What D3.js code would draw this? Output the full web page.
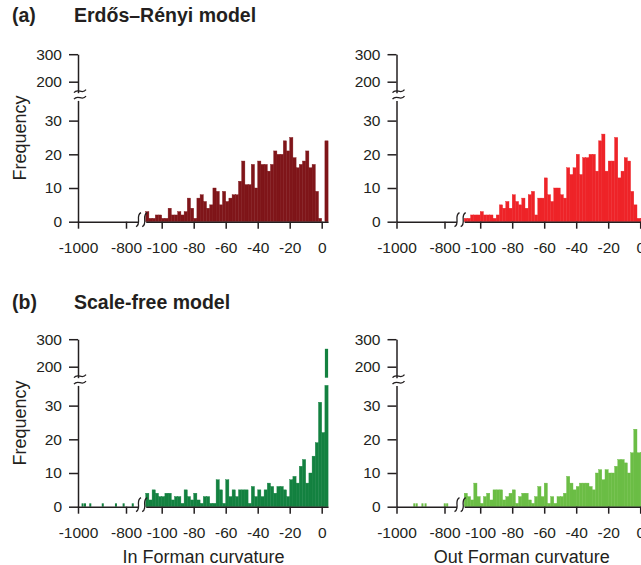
<!DOCTYPE html>
<html>
<head>
<meta charset="utf-8">
<script src="https://cdn.jsdelivr.net/npm/d3@7"></script>
<style>
body { margin: 0; background: #fff; }
svg { display: block; font-family: "Liberation Sans", Arial, sans-serif; }
</style>
</head>
<body>
<svg id="chart" width="641" height="565"></svg>
<script>
// histogram bins of width 2 on the near part of the x axis
const binStarts = d3.range(-110, 4, 2)

const erIn = [3,1,1,2,2,1,1,4,2,2, 3,2,3,7,4,1,7,8,6,4, 5,10,9,5,9,6,7,8,8,12,
              18,11,11,17,10,18,17,17,15,17, 21,20,20,24,21,25,19,16,17,18, 21,16,17,9,1,0,24]
const erOut = [1,1,2,2,2,3,2,2,2,1, 2,5,4,6,4,8,6,5,7,4, 8,9,2,7,7,13,8,6,10,10,
               8,7,16,14,16,20,14,19,19,20, 20,15,24,26,15,18,18,25,13,15, 19,18,9,5,1,1,0]
const sfIn = [4,2,5,4,3,3,4,4,2,3, 3,1,5,3,2,4,2,1,3,3, 1,1,8,5,1,8,3,5,3,5,
              5,5,1,6,3,5,3,5,7,6, 4,6,6,5,3,8,9,7,12,14, 7,10,15,19,31,22,265]
const sfOut = [4,3,2,7,3,1,3,4,2,5, 5,5,2,3,4,5,1,3,4,4, 2,1,3,6,3,7,1,3,1,3,
               3,4,9,7,5,6,7,7,7,6, 5,10,11,8,11,10,10,12,14,14, 13,10,16,23,16,16]

// far-left part of the x axis (bins of width 10)
const sfInFarStarts = [-985, -975, -953, -901, -846, -814, -776]
const sfInFarCounts = [1, 1, 1, 1, 1, 1, 1]
const sfOutFarStarts = [-930, -920, -896, -883, -803, -793]
const sfOutFarCounts = [1, 1, 1, 1, 1, 1]

const xTicksFar = [-1000, -800]
const xTicksNear = [-100, -80, -60, -40, -20, 0]
const yTicksLow = [0, 10, 20, 30]
const yTicksHigh = [200, 300]

const ink = "#231f20"
const svg = d3.select("#chart")

const styleAxis = (g) => {
    g.attr("font-size", null).attr("font-family", null)
    g.selectAll("path, line").attr("stroke", ink).attr("stroke-width", 1.5)
    g.selectAll("text").attr("fill", ink).style("font-size", "15.5px")
}

const panel = (ox, oy, near, farStarts, farCounts, color) => {
    const g = svg.append("g")

    const xFar = d3.scaleLinear().domain([-1000, -750]).range([ox, ox + 60])
    const xNear = d3.scaleLinear().domain([-110, 4]).range([ox + 67.7, ox + 250.1])
    const yLow = d3.scaleLinear().domain([0, 36]).range([oy, oy - 121.3])
    const yHigh = d3.scaleLinear().domain([160, 300]).range([oy - 129, oy - 167.5])

    const bars = near.map((v, i) => ({ x0: binStarts[i], x1: binStarts[i] + 2, v: v }))
        .filter(d => d.v > 0)

    g.selectAll("rect.low")
        .data(bars)
        .enter()
        .append("rect")
        .attr("class", "low")
        .attr("x", d => xNear(d.x0))
        .attr("width", d => xNear(d.x1) - xNear(d.x0))
        .attr("y", d => yLow(Math.min(d.v, 36)))
        .attr("height", d => yLow(0) - yLow(Math.min(d.v, 36)))
        .attr("fill", color)
        .attr("stroke", color)
        .attr("stroke-width", 0.4)

    g.selectAll("rect.high")
        .data(bars.filter(d => d.v > 36))
        .enter()
        .append("rect")
        .attr("class", "high")
        .attr("x", d => xNear(d.x0))
        .attr("width", d => xNear(d.x1) - xNear(d.x0))
        .attr("y", d => yHigh(d.v))
        .attr("height", d => yHigh(160) - yHigh(d.v))
        .attr("fill", color)

    g.selectAll("rect.far")
        .data(farStarts.map((s, i) => ({ x0: s, v: farCounts[i] })))
        .enter()
        .append("rect")
        .attr("class", "far")
        .attr("x", d => xFar(d.x0))
        .attr("width", d => xFar(d.x0 + 10) - xFar(d.x0) - 0.4)
        .attr("y", d => yLow(d.v))
        .attr("height", d => yLow(0) - yLow(d.v))
        .attr("fill", color)

    const fmt = d => String(d)

    g.append("g")
        .attr("transform", `translate(0,${oy})`)
        .call(d3.axisBottom(xFar).tickValues(xTicksFar).tickFormat(fmt)
            .tickSize(7).tickPadding(13).tickSizeOuter(0))
        .call(styleAxis)

    g.append("g")
        .attr("transform", `translate(0,${oy})`)
        .call(d3.axisBottom(xNear).tickValues(xTicksNear).tickFormat(fmt)
            .tickSize(7).tickPadding(13).tickSizeOuter(0))
        .call(styleAxis)

    g.append("g")
        .attr("transform", `translate(${ox},0)`)
        .call(d3.axisLeft(yLow).tickValues(yTicksLow).tickFormat(fmt)
            .tickSize(9).tickPadding(7).tickSizeOuter(0))
        .call(styleAxis)

    g.append("g")
        .attr("transform", `translate(${ox},0)`)
        .call(d3.axisLeft(yHigh).tickValues(yTicksHigh).tickFormat(fmt)
            .tickSize(9).tickPadding(7).tickSizeOuter(0))
        .call(styleAxis)

    // axis break marks
    const hMark = (cx, cy) => `M${cx - 6},${cy + 1.5} C${cx - 2},${cy - 4} ${cx + 2},${cy + 4} ${cx + 6},${cy - 1.5}`
    const vMark = (cx, cy) => `M${cx + 2.5},${cy - 7} C${cx - 3.5},${cy - 4} ${cx + 3.5},${cy + 4} ${cx - 2.5},${cy + 7}`

    g.selectAll("path.brk")
        .data([hMark(ox + 2, oy - 130.5), hMark(ox + 2, oy - 124),
               vMark(xFar(-750) + 0.5, oy - 2), vMark(xNear(-110) - 1, oy - 2)])
        .enter()
        .append("path")
        .attr("class", "brk")
        .attr("d", d => d)
        .attr("fill", "none")
        .attr("stroke", ink)
        .attr("stroke-width", 1.3)
}

panel(78, 221.7, erIn, [], [], "#7f1519")
panel(396.5, 221.7, erOut, [], [], "#ee2328")
panel(78, 506.7, sfIn, sfInFarStarts, sfInFarCounts, "#138140")
panel(396.5, 506.7, sfOut, sfOutFarStarts, sfOutFarCounts, "#6bbd45")

// titles and axis labels
const heads = [["(a)", "Erdős–Rényi model", 22], ["(b)", "Scale-free model", 309]]
heads.forEach(h => {
    svg.append("text").attr("x", 12).attr("y", h[2]).text(h[0])
        .attr("font-weight", "bold").attr("font-size", "19.5px").attr("fill", ink)
    svg.append("text").attr("x", 74).attr("y", h[2]).text(h[1])
        .attr("font-weight", "bold").attr("font-size", "19.5px").attr("fill", ink)
})

;[138, 423].forEach(cy => {
    svg.append("text")
        .attr("transform", `translate(26,${cy}) rotate(-90)`)
        .attr("text-anchor", "middle")
        .attr("font-size", "18px")
        .attr("fill", ink)
        .text("Frequency")
})

svg.append("text").attr("x", 203.5).attr("y", 562.5).attr("text-anchor", "middle")
    .attr("font-size", "18px").attr("fill", ink).text("In Forman curvature")
svg.append("text").attr("x", 521.7).attr("y", 562.5).attr("text-anchor", "middle")
    .attr("font-size", "18px").attr("fill", ink).text("Out Forman curvature")
</script>
</body>
</html>
